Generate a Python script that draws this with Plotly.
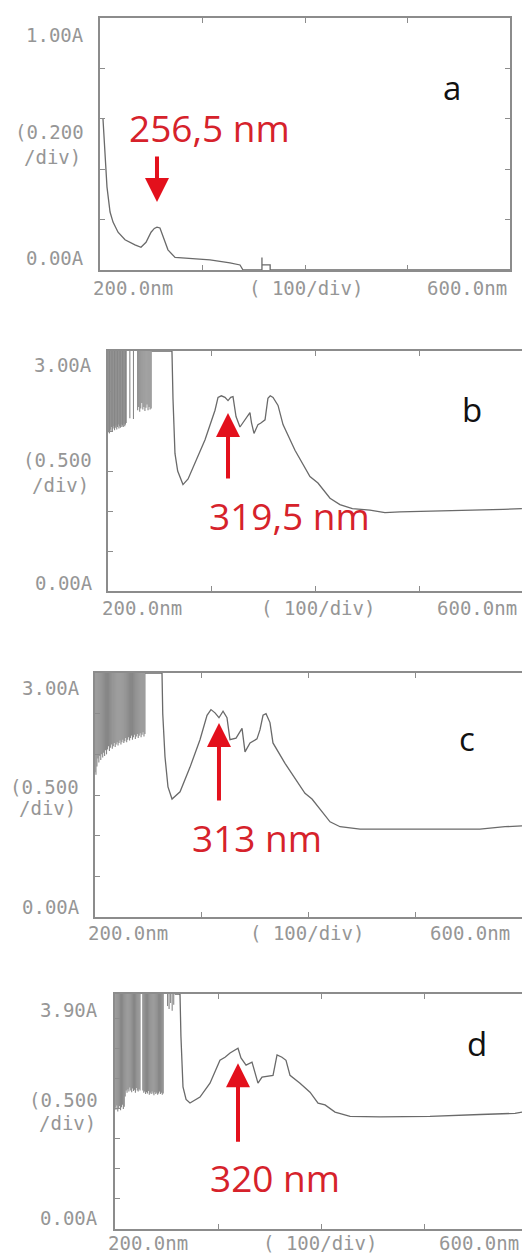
import plotly.graph_objects as go

W, H = 522, 1256

# ---------------- data (wavelength nm, absorbance A) ----------------
a_nm = [202.9, 204.9, 206.8, 209.8, 212.7, 217.6, 224.4, 234.1, 240.0, 244.9, 249.8, 253.0,
        255.6, 258.5, 262.4, 266.3, 273.2, 287.8, 307.3, 326.8, 336.6, 339.5, 357.0, 358.0,
        358.0, 358.0, 366.0, 366.0, 600.0]
a_abs = [0.60, 0.44, 0.33, 0.23, 0.19, 0.15, 0.12, 0.10, 0.09, 0.11, 0.15, 0.165,
         0.17, 0.167, 0.125, 0.08, 0.05, 0.046, 0.04, 0.028, 0.02, 0.0, 0.0, 0.0,
         0.05, 0.02, 0.02, 0.0, 0.0]

b_nm = [242.0, 261.5, 262.5, 264.4, 267.0, 272.1, 277.0, 283.7, 293.3, 302.9, 305.8, 309.0,
        312.5, 315.4, 318.0, 320.2, 323.1, 326.9, 331.7, 336.5, 338.0, 340.4, 344.2, 347.0,
        351.0, 353.8, 356.0, 358.7, 363.5, 366.0, 368.3, 379.8, 394.2, 401.9, 413.5, 423.0,
        435.0, 451.9, 466.3, 480.8, 520.0, 548.0, 580.0, 598.0]
b_abs = [3.0, 3.0, 2.4, 1.72, 1.5, 1.33, 1.4, 1.6, 1.89, 2.26, 2.42, 2.44,
         2.42, 2.38, 2.42, 2.43, 2.18, 2.05, 2.14, 2.23, 2.1, 1.97, 2.08, 2.1,
         2.14, 2.41, 2.44, 2.42, 2.32, 2.2, 2.08, 1.76, 1.43, 1.35, 1.16, 1.08,
         1.03, 1.01, 0.98, 0.99, 1.0, 1.01, 1.02, 1.03]
b_noise_nm = [200.0, 200.7, 201.4, 202.1, 202.8, 203.5, 204.2, 204.9, 205.6, 206.3, 207.0, 207.7,
              208.4, 209.1, 209.8, 210.5, 211.2, 211.9, 212.6, 213.3, 214.0, 214.7, 215.4, 216.1,
              216.8, 217.5, 221.0, 224.5, 228.5, 229.5, 230.5, 231.5, 232.5, 233.5, 234.5, 235.5,
              236.5, 237.5, 238.5, 239.5, 240.5, 241.5]
b_noise_low = [1.98, 2.0, 1.97, 2.02, 1.99, 2.05, 2.0, 2.03, 2.06, 2.01, 2.04, 2.07,
               2.02, 2.05, 2.08, 2.03, 2.06, 2.04, 2.08, 2.05, 2.07, 2.05, 2.09, 2.06,
               2.08, 2.1, 2.16, 2.15, 2.26, 2.3, 2.24, 2.28, 2.35, 2.27, 2.3, 2.25,
               2.29, 2.33, 2.26, 2.3, 2.27, 2.28]

c_nm = [247.0, 262.8, 263.5, 265.6, 268.4, 272.2, 279.7, 289.0, 298.4, 305.0, 308.7, 312.5,
        316.2, 320.0, 323.7, 326.5, 332.2, 335.9, 337.8, 340.6, 345.3, 351.8, 354.6, 357.5,
        360.3, 364.0, 366.8, 378.1, 387.4, 396.8, 403.4, 410.9, 420.3, 429.7, 448.4, 485.8,
        560.8, 584.3, 600.2]
c_abs = [3.0, 3.0, 2.5, 1.97, 1.6, 1.45, 1.54, 1.84, 2.18, 2.48, 2.55, 2.51,
         2.45, 2.53, 2.45, 2.18, 2.2, 2.27, 2.32, 2.03, 2.14, 2.19, 2.3, 2.48,
         2.5, 2.39, 2.14, 1.89, 1.71, 1.52, 1.45, 1.32, 1.17, 1.11, 1.08, 1.08,
         1.08, 1.11, 1.12]
c_noise_nm = [200.0, 200.9, 201.8, 202.7, 203.6, 204.5, 205.4, 206.3, 207.2, 208.1, 209.0, 209.9,
              210.8, 211.7, 212.6, 213.5, 214.4, 215.3, 216.2, 217.1, 218.0, 218.9, 219.8, 220.7,
              221.6, 222.5, 223.4, 224.3, 225.2, 226.1, 227.0, 227.9, 228.8, 229.7, 230.6, 231.5,
              232.4, 233.3, 234.2, 235.1, 236.0, 236.9, 237.8, 238.7, 239.6, 240.5, 241.4, 242.3,
              243.2, 244.1, 245.0, 245.9, 246.8]
c_noise_low = [1.78, 1.75, 1.85, 1.95, 1.9, 1.98, 1.93, 2.0, 1.96, 2.02, 1.98, 2.05,
               2.0, 2.06, 2.1, 2.04, 2.08, 2.12, 2.07, 2.1, 2.14, 2.09, 2.12, 2.15,
               2.11, 2.14, 2.17, 2.12, 2.15, 2.18, 2.14, 2.16, 2.2, 2.15, 2.18, 2.21,
               2.17, 2.2, 2.23, 2.18, 2.21, 2.24, 2.19, 2.22, 2.25, 2.2, 2.23, 2.26,
               2.21, 2.24, 2.27, 2.22, 2.25]

d_nm = [258.0, 263.1, 264.0, 266.0, 269.0, 272.8, 282.5, 292.2, 301.9, 306.8, 311.7, 316.5,
        319.4, 322.3, 327.2, 333.0, 335.9, 338.8, 342.7, 348.5, 353.4, 357.3, 362.1, 366.0,
        369.9, 379.6, 389.3, 397.1, 403.9, 413.6, 428.2, 457.3, 505.8, 554.4, 588.3, 595.1]
d_abs = [3.9, 3.9, 3.2, 2.36, 2.15, 2.09, 2.19, 2.42, 2.8, 2.85, 2.92, 2.97,
         3.0, 2.84, 2.72, 2.77, 2.59, 2.42, 2.52, 2.53, 2.55, 2.89, 2.85, 2.8,
         2.55, 2.42, 2.27, 2.09, 2.06, 1.94, 1.87, 1.86, 1.87, 1.9, 1.92, 1.94]
d_noise_nm = [200.0, 200.9, 201.8, 202.7, 203.6, 204.5, 205.4, 206.3, 207.2, 208.1, 209.0, 209.9,
              210.8, 211.7, 212.6, 213.5, 214.4, 215.3, 216.2, 217.1, 218.0, 218.9, 219.8, 220.7,
              221.6, 222.5, 223.4, 224.3, 227.0, 227.9, 228.8, 229.7, 230.6, 231.5, 232.4, 233.3,
              234.2, 235.1, 236.0, 236.9, 237.8, 238.7, 239.6, 240.5, 241.4, 242.3, 243.2, 244.1,
              245.0, 245.9, 246.8, 251.0, 252.5, 254.0, 255.5, 257.0]
d_noise_low = [2.02, 1.98, 2.05, 1.95, 2.0, 2.04, 1.97, 2.02, 2.06, 1.99, 2.03, 2.2,
               2.3, 2.26, 2.32, 2.28, 2.35, 2.3, 2.27, 2.33, 2.29, 2.31, 2.26, 2.34,
               2.3, 2.28, 2.32, 2.3, 2.3, 2.26, 2.28, 2.24, 2.27, 2.25, 2.29, 2.23,
               2.26, 2.24, 2.28, 2.25, 2.22, 2.27, 2.24, 2.26, 2.23, 2.25, 2.28, 2.24,
               2.26, 2.23, 2.25, 3.7, 3.65, 3.75, 3.62, 3.72]

peak_labels = ["256,5 nm", "319,5 nm", "313 nm", "320 nm"]
peak_nm = [255.6, 315.4, 316.2, 319.4]
peak_abs = [0.27, 2.225, 2.385, 2.75]
panel_letters = ["a", "b", "c", "d"]
y_max_labels = ["1.00A", "3.00A", "3.00A", "3.90A"]
y_div_labels = ["(0.200", "(0.500", "(0.500", "(0.500"]
y_max = [1.0, 3.0, 3.0, 3.9]
y_dtick = [0.2, 0.5, 0.5, 0.5]
x_start_label = "200.0nm"
x_div_label = "( 100/div)"
x_end_label = "600.0nm"

# ---------------- layout geometry (pixels) ----------------
panels = [
    dict(x0=100, x1=510, yt=18, yb=270, xmax=600.0, mirror=True),
    dict(x0=108, x1=522, yt=351, yb=591, xmax=598.1, mirror=False),
    dict(x0=95, x1=522, yt=673, yb=917, xmax=600.2, mirror=False),
    dict(x0=115, x1=522, yt=994, yb=1229, xmax=595.1, mirror=False),
]

AX = "#8c8c8c"
TR = "#6a6a6a"
LBL = "#969696"
RED_T = "#d6222b"
RED_A = "#e3101c"

def px(x):
    return x / W

def py(y):
    return 1 - y / H

fig = go.Figure()

series = [(a_nm, a_abs, None, None), (b_nm, b_abs, b_noise_nm, b_noise_low),
          (c_nm, c_abs, c_noise_nm, c_noise_low), (d_nm, d_abs, d_noise_nm, d_noise_low)]

layout = {}
annotations = []
for i, (p, (xs, ys, nx, nlow)) in enumerate(zip(panels, series)):
    n = "" if i == 0 else str(i + 1)
    xa, ya = "x" + n, "y" + n
    if nx is not None:
        vx, vy = [], []
        for xv, lv in zip(nx, nlow):
            vx += [xv, xv, None]
            vy += [y_max[i], lv, None]
        fig.add_trace(go.Scatter(x=vx, y=vy, mode="lines", xaxis=xa, yaxis=ya,
                                 line=dict(color="#737373", width=1.1), opacity=0.85,
                                 showlegend=False, hoverinfo="skip"))
    fig.add_trace(go.Scatter(x=xs, y=ys, mode="lines", xaxis=xa, yaxis=ya,
                             line=dict(color=TR, width=1.3), showlegend=False))
    layout["xaxis" + n] = dict(domain=[px(p["x0"]), min(1.0, px(p["x1"]))],
                               range=[200, p["xmax"]], anchor=ya, showgrid=False,
                               zeroline=False, showline=True, linecolor=AX, linewidth=1.6,
                               mirror="ticks", ticks="inside", ticklen=5, tickcolor=AX,
                               tickwidth=1.4, dtick=100, tick0=200, showticklabels=False)
    layout["yaxis" + n] = dict(domain=[py(p["yb"]), py(p["yt"])], range=[0, y_max[i]],
                               anchor=xa, showgrid=False, zeroline=False, showline=True,
                               linecolor=AX, linewidth=1.6,
                               mirror="ticks" if p["mirror"] else False,
                               ticks="inside", ticklen=5, tickcolor=AX, tickwidth=1.4,
                               dtick=y_dtick[i], tick0=0, showticklabels=False)
    # arrow
    annotations.append(dict(x=peak_nm[i], y=peak_abs[i], xref=xa, yref=ya, text="",
                            showarrow=True, arrowhead=2, arrowsize=1.2, arrowwidth=4,
                            arrowcolor=RED_A, ax=0, ay=[-47, 67, 79, 80][i]))

lbl_font = dict(family="DejaVu Sans Mono", size=19, color=LBL)
gray_labels = [
    # (text, x, y, anchor)
    (y_max_labels[0], 86, 35, "right"), (y_div_labels[0], 86, 132, "right"), ("/div)", 83, 157, "right"),
    ("0.00A", 86, 258, "right"), (x_start_label, 133, 288, "center"), (x_div_label, 306, 288, "center"),
    (x_end_label, 467, 288, "center"),
    (y_max_labels[1], 94, 365, "right"), (y_div_labels[1], 94, 460, "right"), ("/div)", 91, 485, "right"),
    ("0.00A", 95, 583, "right"), (x_start_label, 142, 608, "center"), (x_div_label, 318, 608, "center"),
    (x_end_label, 435, 608, "left"),
    (y_max_labels[2], 82, 688, "right"), (y_div_labels[2], 81, 787, "right"), ("/div)", 78, 808, "right"),
    ("0.00A", 82, 907, "right"), (x_start_label, 128, 933, "center"), (x_div_label, 307, 933, "center"),
    (x_end_label, 428, 933, "left"),
    (y_max_labels[3], 100, 1010, "right"), (y_div_labels[3], 100, 1100, "right"), ("/div)", 98, 1123, "right"),
    ("0.00A", 100, 1218, "right"), (x_start_label, 148, 1243, "center"), (x_div_label, 320, 1243, "center"),
    (x_end_label, 437, 1243, "left"),
]
for t, x, y, anc in gray_labels:
    annotations.append(dict(text=t, x=px(x), y=py(y), xref="paper", yref="paper",
                            xanchor=anc, yanchor="middle", showarrow=False, font=lbl_font))

red_pos = [(209, 128), (289, 515), (257, 837), (275, 1177)]
letter_pos = [(452, 88), (472, 409), (467, 738), (477, 1043)]
for i in range(4):
    annotations.append(dict(text=peak_labels[i], x=px(red_pos[i][0]), y=py(red_pos[i][1]),
                            xref="paper", yref="paper", xanchor="center", yanchor="middle",
                            showarrow=False, font=dict(family="Open Sans", size=37, color=RED_T)))
    annotations.append(dict(text=panel_letters[i], x=px(letter_pos[i][0]), y=py(letter_pos[i][1]),
                            xref="paper", yref="paper", xanchor="center", yanchor="middle",
                            showarrow=False, font=dict(family="Open Sans", size=33, color="#111111")))

fig.update_layout(width=W, height=H, margin=dict(l=0, r=0, t=0, b=0),
                  paper_bgcolor="white", plot_bgcolor="white", showlegend=False,
                  annotations=annotations, **layout)

fig.write_html("out.html", config={"displayModeBar": False},
               post_script="document.body.style.margin='0';document.body.style.padding='0';"
                           "document.body.style.overflow='hidden';")
